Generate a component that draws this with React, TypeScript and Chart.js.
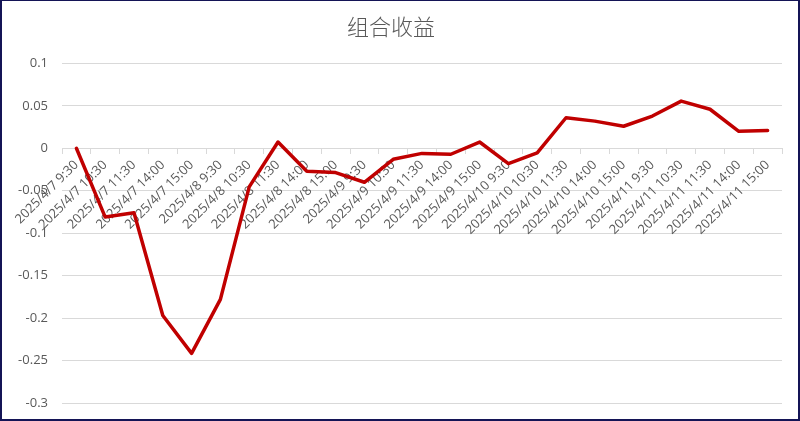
import React, { useEffect, useRef } from "react";
import { Chart, registerables } from "chart.js";

Chart.register(...registerables);

const TITLE = "组合收益";
const categories: string[] = [
  "2025/4/7 9:30", "2025/4/7 10:30", "2025/4/7 11:30", "2025/4/7 14:00", "2025/4/7 15:00",
  "2025/4/8 9:30", "2025/4/8 10:30", "2025/4/8 11:30", "2025/4/8 14:00", "2025/4/8 15:00",
  "2025/4/9 9:30", "2025/4/9 10:30", "2025/4/9 11:30", "2025/4/9 14:00", "2025/4/9 15:00",
  "2025/4/10 9:30", "2025/4/10 10:30", "2025/4/10 11:30", "2025/4/10 14:00", "2025/4/10 15:00",
  "2025/4/11 9:30", "2025/4/11 10:30", "2025/4/11 11:30", "2025/4/11 14:00", "2025/4/11 15:00",
];
const portfolioReturn: number[] = [
  0, -0.081, -0.076, -0.197, -0.2415,
  -0.178, -0.0455, 0.0074, -0.027, -0.0286,
  -0.040, -0.013, -0.006, -0.007, 0.0074,
  -0.018, -0.0055, 0.036, 0.032, 0.026,
  0.038, 0.0556, 0.046, 0.020, 0.021,
];
const yMin = -0.3;
const yMax = 0.1;
const yStep = 0.05;

export default function App() {
  const ref = useRef<HTMLCanvasElement | null>(null);
  useEffect(() => {
    document.body.style.margin = "0";
    const canvas = ref.current;
    if (!canvas) return;
    const chart = new Chart(canvas, {
      type: "line",
      data: {
        labels: categories,
        datasets: [
          {
            label: TITLE,
            data: portfolioReturn,
            borderColor: "#C00000",
            backgroundColor: "#C00000",
            borderWidth: 3.5,
            pointRadius: 0,
            tension: 0,
            borderJoinStyle: "round",
            borderCapStyle: "round",
          },
        ],
      },
      options: {
        animation: false,
        responsive: false,
        maintainAspectRatio: false,
        layout: { padding: { left: 0, right: 18, top: 0, bottom: 18 } },
        plugins: {
          legend: { display: false },
          tooltip: { enabled: false },
          title: {
            display: true,
            text: TITLE,
            color: "#595959",
            font: { family: "'Noto Sans CJK SC', sans-serif", size: 22, weight: 300 as any },
            padding: { top: 13, bottom: 24 },
          },
        },
        scales: {
          x: {
            type: "category",
            position: { y: 0 } as any,
            offset: true,
            afterFit: (scale: any) => {
              scale.height = 0;
            },
            grid: {
              display: true,
              drawOnChartArea: false,
              drawTicks: true,
              tickLength: 5,
              offset: true,
              color: "#D9D9D9",
            },
            border: { display: true, color: "#D9D9D9", width: 1 },
            ticks: {
              autoSkip: false,
              maxRotation: 45,
              minRotation: 45,
              padding: 4,
              color: "#595959",
              font: { family: "'Open Sans', sans-serif", size: 13 },
            },
          },
          y: {
            min: yMin,
            max: yMax,
            afterFit: (scale: any) => {
              scale.width = 62;
              scale.paddingTop = 0;
              scale.paddingBottom = 0;
            },
            grid: { color: "#D9D9D9", drawTicks: false, lineWidth: 1 },
            border: { display: false },
            ticks: {
              stepSize: yStep,
              padding: 14,
              color: "#595959",
              font: { family: "'Open Sans', sans-serif", size: 13 },
              callback: (v: any) => String(Math.round(Number(v) * 100) / 100),
            },
          },
        },
      },
    });
    return () => chart.destroy();
  }, []);
  return (
    <div style={{ position: "relative", width: 800, height: 421, background: "#fff" }}>
      <canvas ref={ref} width={800} height={421} style={{ display: "block" }} />
      <div
        style={{
          position: "absolute",
          left: 0,
          top: 0,
          width: 800,
          height: 421,
          boxSizing: "border-box",
          borderStyle: "solid",
          borderColor: "#141456",
          borderWidth: "1px 2px 2px 2px",
          pointerEvents: "none",
        }}
      />
    </div>
  );
}
